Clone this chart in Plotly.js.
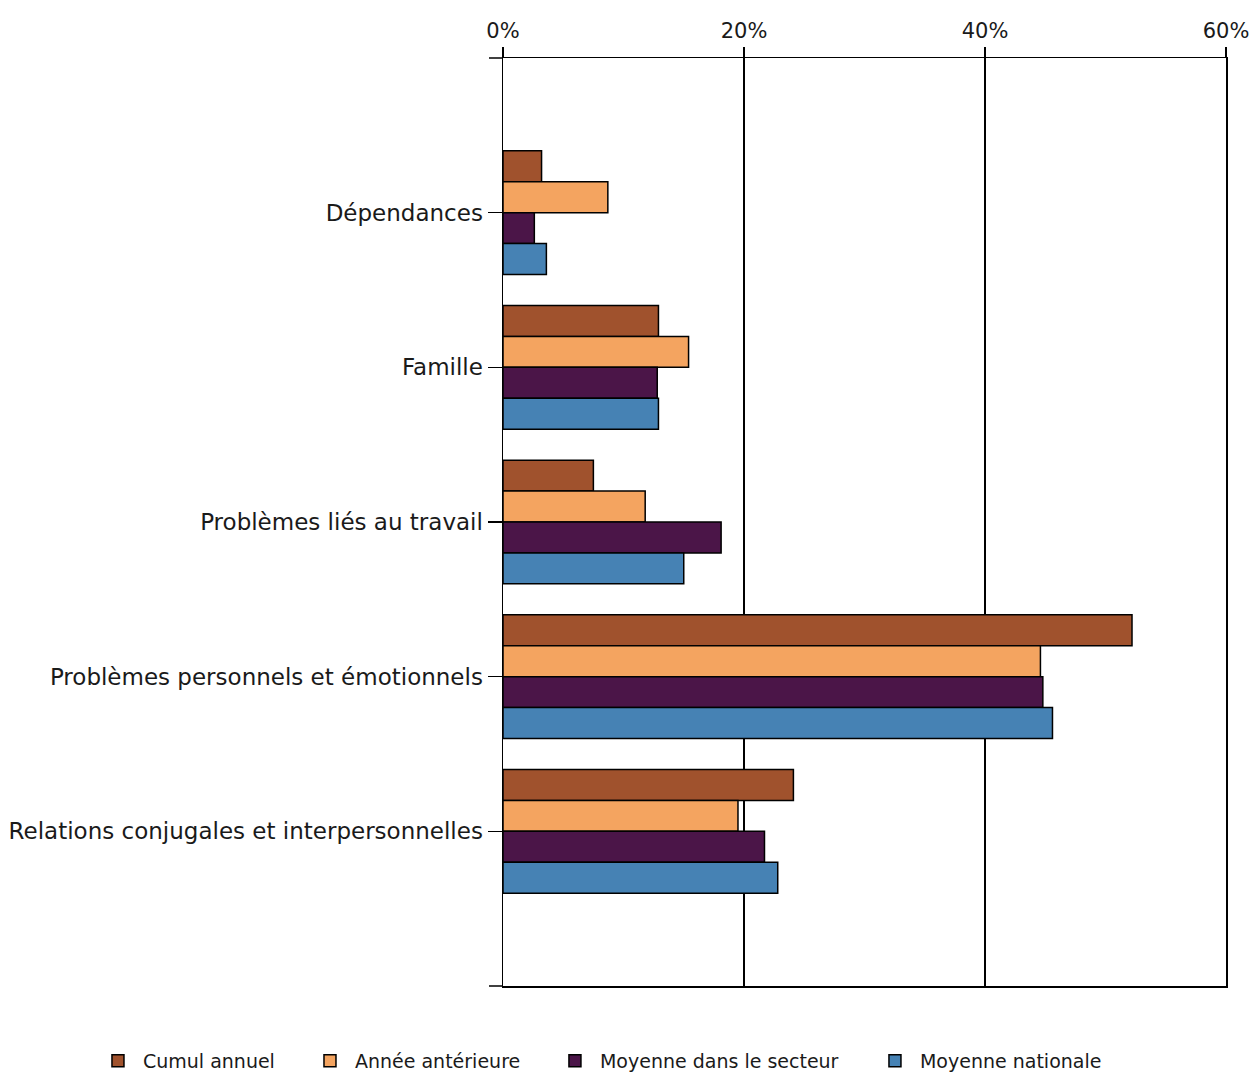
<!DOCTYPE html>
<html>
<head>
<meta charset="utf-8">
<script src="https://cdn.plot.ly/plotly-3.0.1.min.js"></script>
<style>html,body{margin:0;padding:0;background:#fff;}#chart{width:1253px;height:1072px;}</style>
</head>
<body>
<div id="chart"></div>
<script>
var categories = ["Dépendances", "Famille", "Problèmes liés au travail", "Problèmes personnels et émotionnels", "Relations conjugales et interpersonnelles"];
var seriesNames = ["Cumul annuel", "Année antérieure", "Moyenne dans le secteur", "Moyenne nationale"];
var cumulAnnuel = [3.2, 12.9, 7.5, 52.2, 24.1];
var anneeAnterieure = [8.7, 15.4, 11.8, 44.6, 19.5];
var moyenneSecteur = [2.6, 12.8, 18.1, 44.8, 21.7];
var moyenneNationale = [3.6, 12.9, 15.0, 45.6, 22.8];
var colors = ["#A0522D", "#F4A460", "#4B1548", "#4682B4"];
var xTicks = [0, 20, 40, 60];
var xTickLabels = ["0%", "20%", "40%", "60%"];

var font = "DejaVu Sans, Verdana, sans-serif";
var legendIds = ["legend", "legend2", "legend3", "legend4"];
var legendX = [0.0742, 0.2434, 0.4389, 0.6943];

var allValues = [cumulAnnuel, anneeAnterieure, moyenneSecteur, moyenneNationale];
var traces = allValues.map(function (vals, i) {
  return {
    type: "bar",
    orientation: "h",
    name: seriesNames[i],
    x: vals,
    y: categories,
    legend: legendIds[i],
    marker: { color: colors[i], line: { color: "#000", width: 1.5 } },
    hoverinfo: "x+y+name"
  };
});

var layout = {
  width: 1253,
  height: 1072,
  paper_bgcolor: "#fff",
  plot_bgcolor: "#fff",
  margin: { l: 503, r: 27, t: 58, b: 86, pad: 0, autoexpand: false },
  barmode: "group",
  bargap: 0.2,
  bargroupgap: 0,
  font: { family: font, color: "#1a1a1a" },
  xaxis: {
    side: "top",
    range: [0, 60],
    tickmode: "array",
    tickvals: xTicks,
    ticktext: xTickLabels,
    showgrid: true,
    gridcolor: "#000",
    gridwidth: 1.5,
    zeroline: false,
    showline: true,
    mirror: true,
    linecolor: "#000",
    linewidth: 1.5,
    ticks: "outside",
    ticklen: 10,
    tickwidth: 1.5,
    tickcolor: "#000",
    tickfont: { family: font, size: 21, color: "#1a1a1a" },
    fixedrange: true
  },
  yaxis: {
    type: "category",
    categoryorder: "array",
    categoryarray: categories,
    range: [5, -1],
    showgrid: false,
    zeroline: false,
    showline: true,
    mirror: true,
    linecolor: "#000",
    linewidth: 1.5,
    ticks: "outside",
    ticklen: 14,
    tickwidth: 1.5,
    tickcolor: "#000",
    ticklabelstandoff: 0,
    tickfont: { family: font, size: 23, color: "#1a1a1a" },
    fixedrange: true
  },
  shapes: [
    { type: "line", xref: "paper", yref: "paper", xsizemode: "pixel", xanchor: 0, x0: -14, x1: 0, y0: 1, y1: 1, line: { color: "#000", width: 1.5 } },
    { type: "line", xref: "paper", yref: "paper", xsizemode: "pixel", xanchor: 0, x0: -14, x1: 0, y0: 0, y1: 0, line: { color: "#000", width: 1.5 } }
  ],
  showlegend: true
};

legendIds.forEach(function (id, i) {
  layout[id] = {
    orientation: "h",
    xref: "container",
    yref: "container",
    x: legendX[i],
    y: 0.0103,
    xanchor: "left",
    yanchor: "middle",
    font: { family: font, size: 19, color: "#1a1a1a" },
    itemwidth: 40,
    bgcolor: "rgba(0,0,0,0)"
  };
});

Plotly.newPlot("chart", traces, layout, { displayModeBar: false, staticPlot: true });
</script>
</body>
</html>
